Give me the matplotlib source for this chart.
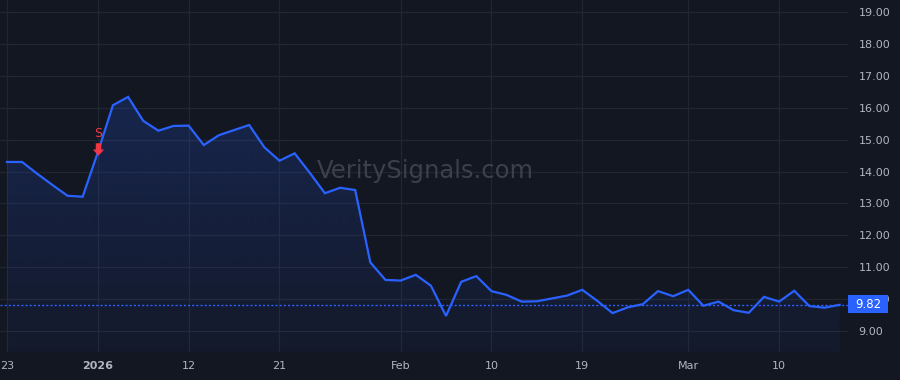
import numpy as np
import matplotlib
matplotlib.use("Agg")
from matplotlib import pyplot as plt
from matplotlib.colors import LinearSegmentedColormap
from matplotlib.patches import Rectangle
from matplotlib.path import Path

# daily closes, trading days Dec 23 2025 .. Mar 16 2026
prices = [14.30, 14.30, 13.93, 13.58, 13.24, 13.21, 14.60, 16.08, 16.34, 15.59,
          15.28, 15.43, 15.44, 14.83, 15.14, 15.30, 15.46, 14.76, 14.34, 14.57,
          13.96, 13.32, 13.49, 13.42, 11.15, 10.60, 10.58, 10.76, 10.42, 9.47,
          10.54, 10.72, 10.25, 10.13, 9.92, 9.93, 10.02, 10.11, 10.29, 9.94,
          9.56, 9.74, 9.84, 10.25, 10.09, 10.29, 9.79, 9.92, 9.65, 9.57,
          10.07, 9.92, 10.26, 9.78, 9.73, 9.82]
tick_idx = [0, 6, 12, 18, 26, 32, 38, 45, 51]
tick_lbl = ["23", "2026", "12", "21", "Feb", "10", "19", "Mar", "10"]
y_ticks = [9, 10, 11, 12, 13, 14, 15, 16, 17, 18, 19]
signal_idx = 6
signal_price = 14.71
signal_lbl = "S"
last_price = prices[-1]

BG = "#131722"
GRID = "#222631"
BLUE = "#2962ff"
TXT = "#b2b5be"
RED = "#f23645"

x = np.arange(len(prices))
y = np.array(prices)
ymin, ymax = 8.34, 19.38
xmin, xmax = -0.46, 55.55

fig = plt.figure(figsize=(9, 3.8), dpi=100, facecolor=BG)
ax = fig.add_axes([0, 28 / 380, 848 / 900, 352 / 380], facecolor=BG)

# grid
for v in y_ticks:
    ax.axhline(v, color=GRID, lw=0.9, zorder=0)
for t in tick_idx:
    ax.axvline(t, color=GRID, lw=0.9, zorder=0)

# gradient area under the line
cmap = LinearSegmentedColormap.from_list(
    "area", [(41 / 255, 98 / 255, 1.0, 0.04), (41 / 255, 98 / 255, 1.0, 0.20)])
poly = ax.fill_between(x, y, ymin, color="none", lw=0)
grad = np.linspace(0, 1, 256).reshape(-1, 1)
im = ax.imshow(grad, cmap=cmap, aspect="auto", origin="lower",
               extent=[x[0], x[-1], ymin, y.max()], zorder=1)
im.set_clip_path(poly.get_paths()[0], transform=ax.transData)
ax.set_xlim(xmin, xmax)
ax.set_ylim(ymin, ymax)

ax.plot(x, y, color=BLUE, lw=1.6, zorder=3, solid_joinstyle="miter")

# last price line
ax.axhline(last_price, color=BLUE, lw=1, ls=(0, (1.5, 1.5)), zorder=2)

# watermark
ax.text(0.501, 0.515, "VeritySignals.com", transform=ax.transAxes, ha="center",
        va="center", fontsize=17.5, color="#3d404a", zorder=2)

# sell signal: down arrow marker + letter
arrow = Path([(-0.22, 0.5), (0.22, 0.5), (0.22, 0.0), (0.45, 0.0), (0.0, -0.5),
              (-0.45, 0.0), (-0.22, 0.0), (-0.22, 0.5)], closed=True)
ax.plot([signal_idx], [signal_price], marker=arrow, markersize=9, color=RED,
        markeredgewidth=0, zorder=4)
ax.text(signal_idx, 15.18, signal_lbl, ha="center", va="center", fontsize=9,
        color=RED, zorder=4)

# axes
for s in ax.spines.values():
    s.set_visible(False)
ax.set_xticks(tick_idx)
ax.set_xticklabels(tick_lbl)
for lbl in ax.get_xticklabels():
    if lbl.get_text() == "2026":
        lbl.set_fontweight("bold")
ax.yaxis.tick_right()
ax.set_yticks(y_ticks)
ax.set_yticklabels(["%.2f" % v for v in y_ticks])
ax.tick_params(axis="x", length=0, pad=6.5, labelsize=8, colors=TXT)
ax.tick_params(axis="y", length=0, pad=7.5, labelsize=8, colors=TXT)

# last price badge (covers the 10.00 label like the reference)
fig.patches.append(Rectangle((848 / 900, (380 - 313) / 380), 40 / 900, 18 / 380,
                             transform=fig.transFigure, fc=BLUE, ec="none", zorder=5))
fig.text(868 / 900, (380 - 304) / 380, "%.2f" % last_price, ha="center", va="center",
         fontsize=8.5, color="white", zorder=6)

fig.savefig("out.png", dpi=100, facecolor=BG)
